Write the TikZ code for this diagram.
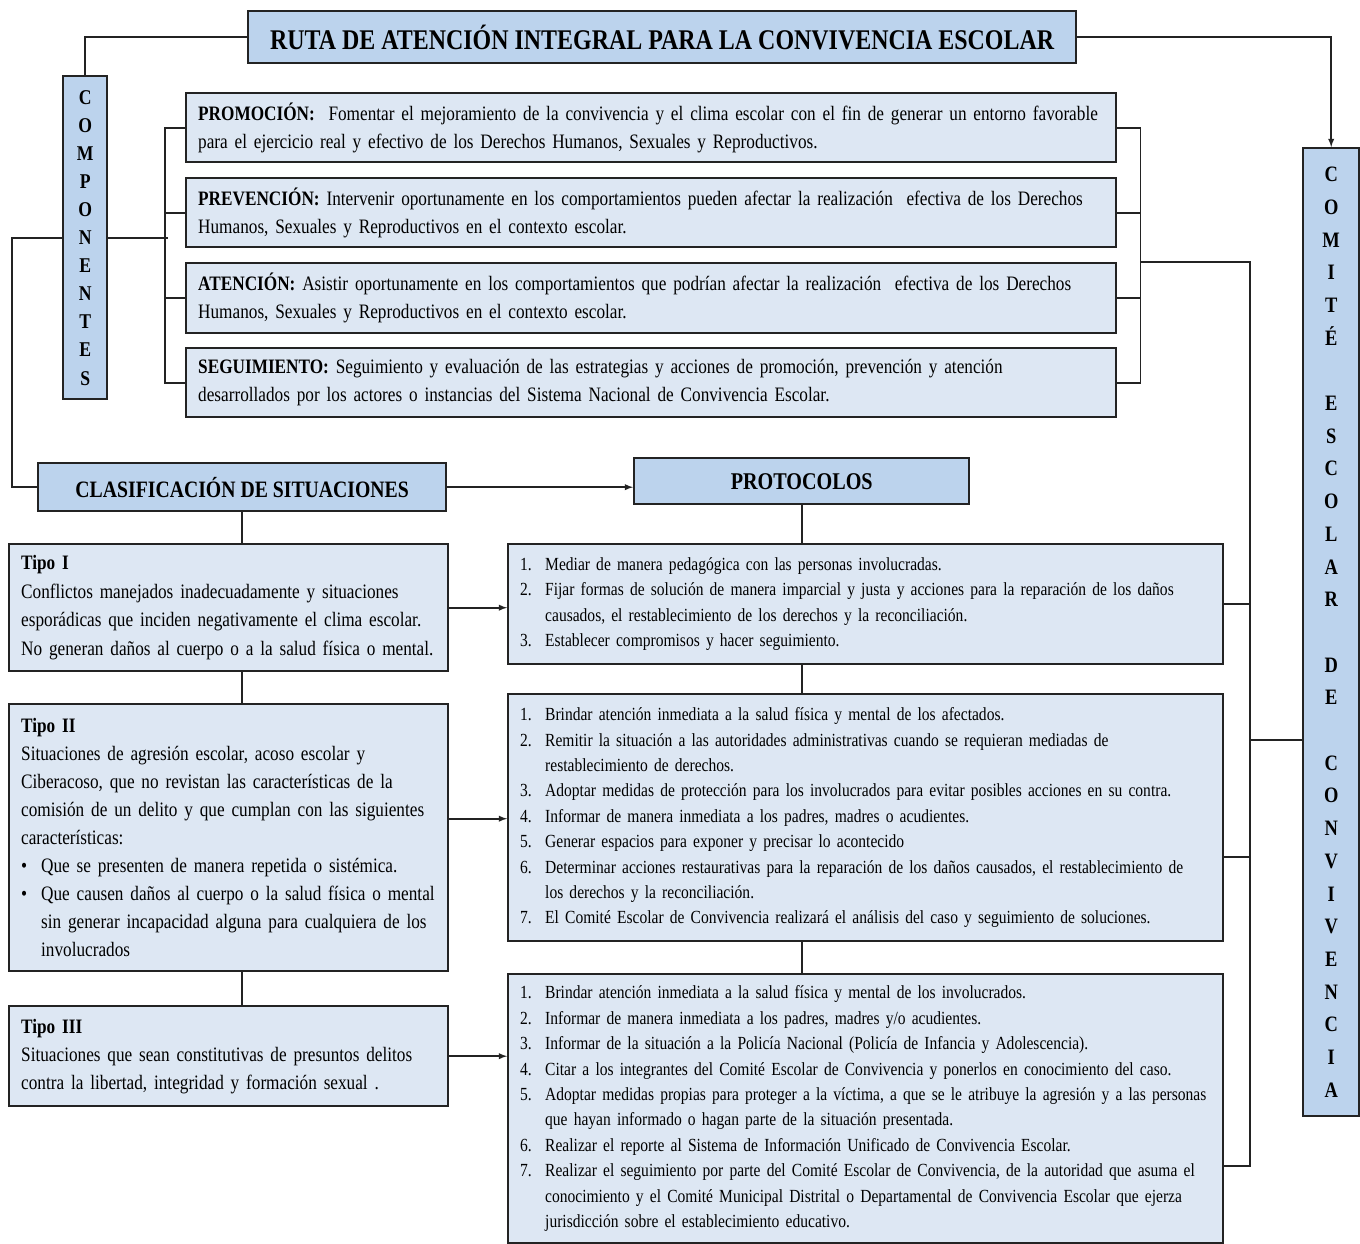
\documentclass[tikz,border=0pt]{standalone}
\usepackage{fontspec}
\setmainfont[FakeStretch=0.84, WordSpace=0.75]{Liberation Serif}
\newfontfamily\headfont[FakeStretch=0.84]{Liberation Serif}
\definecolor{headblue}{RGB}{188,211,237}
\definecolor{bodyblue}{RGB}{221,231,243}
\definecolor{edge}{RGB}{35,35,35}

\tikzstyle{head}=[draw=edge, line width=2.4pt, fill=headblue, anchor=north west, inner sep=0pt, align=center]
\tikzstyle{body}=[draw=edge, line width=2.4pt, fill=bodyblue, anchor=north west, inner xsep=12pt, inner ysep=0pt, align=left]
\tikzstyle{link}=[line width=1.8pt, draw=edge]
\tikzstyle{arr}=[link, -latex]

\newcommand{\itm}[2]{\hspace*{2pt}\makebox[25pt][l]{#1.}#2}
\newcommand{\cont}[1]{\hspace*{27pt}#1}
\newcommand{\bul}[1]{\makebox[20pt][l]{\textbullet}#1}
\newcommand{\bulc}[1]{\hspace*{20pt}#1}

\begin{document}
\begin{tikzpicture}[x=1pt, y=-1pt]
    \useasboundingbox (0, 0) rectangle (1360, 1244);
    % headers
    \node[head, minimum width=828pt, minimum height=52pt, font=\headfont\bfseries\fontsize{28.5}{36}\selectfont] (title) at (247, 10) {RUTA DE ATENCIÓN INTEGRAL PARA LA CONVIVENCIA ESCOLAR};
    \node[head, minimum width=44pt, minimum height=323pt, font=\headfont\bfseries\fontsize{21}{28.1}\selectfont] (componentes) at (62, 75) {C\\O\\M\\P\\O\\N\\E\\N\\T\\E\\S};
    \node[head, minimum width=56pt, minimum height=968pt, font=\headfont\bfseries\fontsize{22}{32.7}\selectfont] (comite) at (1302, 147) {C\\O\\M\\I\\T\\É\\~\\E\\S\\C\\O\\L\\A\\R\\~\\D\\E\\~\\C\\O\\N\\V\\I\\V\\E\\N\\C\\I\\A};
    \node[head, minimum width=408pt, minimum height=48pt, font=\headfont\bfseries\fontsize{23.5}{30}\selectfont] (clasif) at (37, 462) {CLASIFICACIÓN DE SITUACIONES};
    \node[head, minimum width=335pt, minimum height=46pt, font=\headfont\bfseries\fontsize{24}{30}\selectfont] (protocolos) at (633, 457) {PROTOCOLOS};

    % componentes
    \node[body, text width=906pt, minimum height=69pt, font=\fontsize{20.5}{28}\selectfont] (promocion) at (185, 92) {\textbf{PROMOCIÓN:}\ \ Fomentar el mejoramiento de la convivencia y el clima escolar con el fin de generar un entorno favorable\\para el ejercicio real y efectivo de los Derechos Humanos, Sexuales y Reproductivos.};
    \node[body, text width=906pt, minimum height=69pt, font=\fontsize{20.5}{28}\selectfont] (prevencion) at (185, 177) {\textbf{PREVENCIÓN:} Intervenir oportunamente en los comportamientos pueden afectar la realización\ \ efectiva de los Derechos\\Humanos, Sexuales y Reproductivos en el contexto escolar.};
    \node[body, text width=906pt, minimum height=70pt, font=\fontsize{20.5}{28}\selectfont] (atencion) at (185, 262) {\textbf{ATENCIÓN:} Asistir oportunamente en los comportamientos que podrían afectar la realización\ \ efectiva de los Derechos\\Humanos, Sexuales y Reproductivos en el contexto escolar.};
    \node[body, text width=906pt, minimum height=69pt, font=\fontsize{20.5}{28}\selectfont] (seguimiento) at (185, 347) {\textbf{SEGUIMIENTO:} Seguimiento y evaluación de las estrategias y acciones de promoción, prevención y atención\\desarrollados por los actores o instancias del Sistema Nacional de Convivencia Escolar.};

    % situaciones
    \node[body, text width=415pt, minimum height=127pt, font=\fontsize{20.5}{28.5}\selectfont] (tipo1) at (8, 543) {\textbf{Tipo I}\\Conflictos manejados inadecuadamente y situaciones\\esporádicas que inciden negativamente el clima escolar.\\No generan daños al cuerpo o a la salud física o mental.};
    \node[body, text width=415pt, minimum height=267pt, font=\fontsize{20.5}{28}\selectfont] (tipo2) at (8, 703) {\textbf{Tipo II}\\Situaciones de agresión escolar, acoso escolar y\\Ciberacoso, que no revistan las características de la\\comisión de un delito y que cumplan con las siguientes\\características:\\\bul{Que se presenten de manera repetida o sistémica.}\\\bul{Que causen daños al cuerpo o la salud física o mental}\\\bulc{sin generar incapacidad alguna para cualquiera de los}\\\bulc{involucrados}};
    \node[body, text width=415pt, minimum height=100pt, font=\fontsize{20.5}{28}\selectfont] (tipo3) at (8, 1005) {\textbf{Tipo III}\\Situaciones que sean constitutivas de presuntos delitos\\contra la libertad,\ integridad y formación sexual .};

    % protocolos
    \node[body, inner xsep=10pt, text width=695pt, minimum height=120pt, font=\fontsize{18.5}{25.4}\selectfont] (prot1) at (507, 543) {\itm{1}{Mediar de manera pedagógica con las personas involucradas.}\\\itm{2}{Fijar formas de solución de manera imparcial y justa y acciones para la reparación de los daños}\\\cont{causados, el restablecimiento de los derechos y la reconciliación.}\\\itm{3}{Establecer compromisos y hacer seguimiento.}};
    \node[body, inner xsep=10pt, text width=695pt, minimum height=247pt, font=\fontsize{18.5}{25.4}\selectfont] (prot2) at (507, 693) {\itm{1}{Brindar atención inmediata a la salud física y mental de los afectados.}\\\itm{2}{Remitir la situación a las autoridades administrativas cuando se requieran mediadas de}\\\cont{restablecimiento de derechos.}\\\itm{3}{Adoptar medidas de protección para los involucrados para evitar posibles acciones en su contra.}\\\itm{4}{Informar de manera inmediata a los padres, madres o acudientes.}\\\itm{5}{Generar espacios para exponer y precisar lo acontecido}\\\itm{6}{Determinar acciones restaurativas para la reparación de los daños causados, el restablecimiento de}\\\cont{los derechos y la reconciliación.}\\\itm{7}{El Comité Escolar de Convivencia realizará el análisis del caso y seguimiento de soluciones.}};
    \node[body, inner xsep=10pt, text width=695pt, minimum height=269pt, font=\fontsize{18.5}{25.4}\selectfont] (prot3) at (507, 973) {\itm{1}{Brindar atención inmediata a la salud física y mental de los involucrados.}\\\itm{2}{Informar de manera inmediata a los padres, madres y/o acudientes.}\\\itm{3}{Informar de la situación a la Policía Nacional (Policía de Infancia y Adolescencia).}\\\itm{4}{Citar a los integrantes del Comité Escolar de Convivencia y ponerlos en conocimiento del caso.}\\\itm{5}{Adoptar medidas propias para proteger a la víctima, a que se le atribuye la agresión y a las personas}\\\cont{que hayan informado o hagan parte de la situación presentada.}\\\itm{6}{Realizar el reporte al Sistema de Información Unificado de Convivencia Escolar.}\\\itm{7}{Realizar el seguimiento por parte del Comité Escolar de Convivencia, de la autoridad que asuma el}\\\cont{conocimiento y el Comité Municipal Distrital o Departamental de Convivencia Escolar que ejerza}\\\cont{jurisdicción sobre el establecimiento educativo.}};

    % top connectors
    \draw[link] (title.west) -| (componentes.north);
    \draw[arr] (title.east) -| (comite.north);
    \draw[link] (componentes.west) -- ++(-50, 0) |- (clasif.west);
    \draw[link] (componentes.east) -- ++(60, 0);
    \draw[link] (promocion.west) -- ++(-20, 0) |- (seguimiento.west);
    \draw[link] (prevencion.west) -- ++(-20, 0);
    \draw[link] (atencion.west) -- ++(-20, 0);
    \draw[link] (promocion.east) -- ++(23, 0) |- (seguimiento.east);
    \draw[link] (prevencion.east) -- ++(23, 0);
    \draw[link] (atencion.east) -- ++(23, 0);

    % right trunk to the committee
    \coordinate (trunk) at (1250, 262);
    \coordinate (trunkend) at (1250, 1166);
    \coordinate (p2tick) at (1222, 857);
    \coordinate (ctick) at (1250, 740);
    \draw[link] (atencion.north east) ++(23, 0) -- (trunk) -- (trunkend) -- (trunkend -| prot3.east);
    \draw[link] (prot1.east) -- (prot1.east -| trunk);
    \draw[link] (p2tick) -- (p2tick -| trunk);
    \draw[link] (ctick) -- (ctick -| comite.west);

    % situaciones -> protocolos
    \draw[arr] (clasif.east) -- (clasif.east -| protocolos.west);
    \draw[link] (clasif.south) -- (clasif.south |- tipo1.north);
    \draw[link] (tipo1.south -| clasif.south) -- (tipo2.north -| clasif.south);
    \draw[link] (tipo2.south -| clasif.south) -- (tipo3.north -| clasif.south);
    \draw[link] (protocolos.south) -- (protocolos.south |- prot1.north);
    \draw[link] (prot1.south -| protocolos.south) -- (prot2.north -| protocolos.south);
    \draw[link] (prot2.south -| protocolos.south) -- (prot3.north -| protocolos.south);
    \draw[arr] (tipo1.east) -- (tipo1.east -| prot1.west);
    \draw[arr] ([yshift=19pt]tipo2.east) -- ([yshift=19pt]tipo2.east -| prot2.west);
    \draw[arr] (tipo3.east) -- (tipo3.east -| prot3.west);
\end{tikzpicture}
\end{document}
